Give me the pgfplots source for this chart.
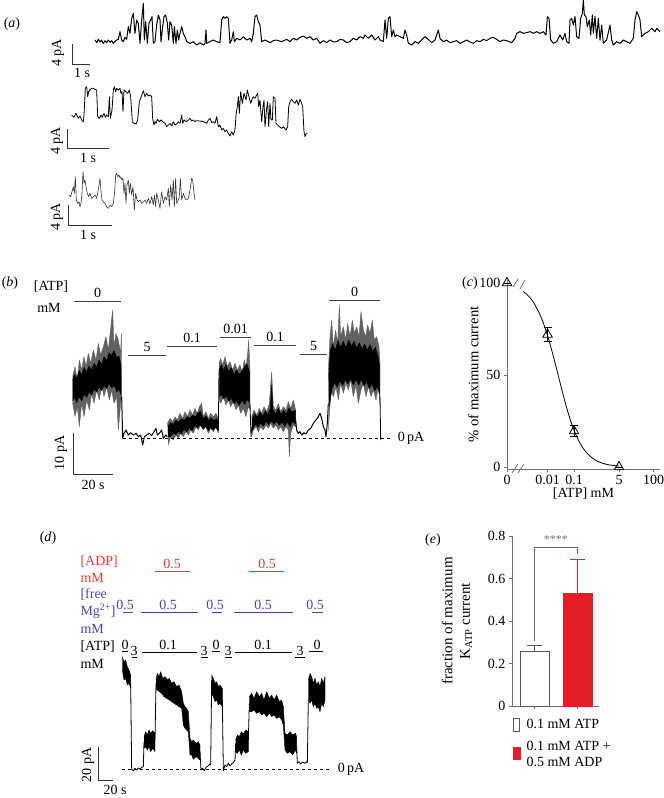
\documentclass[border=0pt]{standalone}
\usepackage{pgfplots}
\pgfplotsset{compat=1.18}
\usepackage{fontspec}
\setmainfont{Liberation Serif}
\definecolor{adpred}{HTML}{E4383D}
\definecolor{barred}{HTML}{E31E26}
\definecolor{mgblue}{HTML}{4646A0}
\definecolor{axgray}{HTML}{707070}
\pgfplotsset{
  px/.style={scale only axis, anchor=center, hide axis, clip=false, y dir=reverse},
  scalebar/.style={black!80, line width=0.9pt},
  solbar/.style={black!75, line width=0.9pt},
  trace/.style={black, line width=0.8pt, line join=round},
  band/.style={black, fill=black, line width=0.4pt, line join=round},
  fringe/.style={black!62, fill=black!62, line width=0.4pt, line join=round},
}
\begin{document}
\begin{tikzpicture}[font=\fontsize{14}{16.8}\selectfont]
\path[use as bounding box] (0,0) rectangle (664pt,-798pt);

% ---------- (a) trace 1
\begin{axis}[px, at={(377pt,-30pt)}, width=574pt, height=60pt,
  xmin=0, xmax=1722, ymin=0, ymax=180]
\addplot[trace, line width=1pt] coordinates {
(15,120)(20,128)(25,118)(30,126)(35,120)(40,130)(45,122)(50,128)(55,120)(60,127)(65,122)(70,130)(75,124)(80,120)(85,118)(90,95)(95,120)(100,125)(105,112)(110,118)(115,80)(120,100)(125,55)(130,40)(135,100)(140,60)(145,70)(150,130)(155,60)(160,10)(163,120)(167,65)(172,130)(177,70)(182,60)(186,50)(190,130)(195,125)(200,75)(205,45)(210,60)(213,125)(218,80)(222,50)(227,45)(232,70)(236,120)(240,65)(245,75)(250,130)(253,80)(258,130)(262,90)(266,120)(270,100)(275,80)(280,100)(285,110)(290,125)(300,130)(310,125)(320,135)(330,128)(340,135)(345,130)(348,90)(350,130)(360,125)(370,120)(380,125)(390,128)(395,60)(400,50)(405,55)(410,50)(415,55)(420,130)(425,120)(430,95)(433,125)(440,115)(450,120)(460,110)(470,120)(480,115)(485,125)(490,100)(495,50)(500,45)(505,65)(510,75)(515,125)(525,120)(540,128)(550,122)(560,120)(575,125)(590,118)(600,125)(610,115)(620,120)(630,112)(640,108)(650,115)(660,110)(670,120)(680,115)(690,130)(700,122)(710,128)(720,120)(730,126)(740,125)(750,118)(760,120)(770,128)(780,125)(790,115)(800,120)(810,110)(820,115)(825,105)(835,115)(845,105)(855,120)(865,110)
(870,120)(880,125)(885,60)(890,115)(895,55)(900,50)(905,110)(910,90)(915,110)(920,105)(930,110)(940,115)(945,90)(950,105)(955,130)(965,135)(975,125)(985,130)(995,120)(1005,110)(1015,118)(1025,128)(1035,120)(1045,90)(1050,115)(1060,125)(1070,120)(1080,128)(1090,125)(1100,122)(1110,130)(1120,125)(1130,120)(1140,126)(1150,130)(1160,122)(1170,125)(1180,118)(1190,122)(1200,115)(1210,112)(1220,118)(1230,125)(1240,120)(1250,122)(1265,128)(1275,115)(1280,100)(1290,95)(1300,100)(1310,98)(1320,95)(1330,100)(1340,95)(1350,100)(1360,95)(1368,105)(1372,50)(1377,55)(1382,120)(1390,130)(1400,125)(1410,105)(1418,120)(1425,100)(1430,125)(1437,130)(1440,60)(1445,55)(1450,75)(1455,50)(1460,110)(1467,115)(1472,55)(1477,40)(1480,0)(1483,45)(1488,50)(1492,80)(1498,60)(1502,105)(1507,45)(1510,100)(1515,50)(1520,115)(1525,55)(1530,120)(1535,75)(1540,130)(1550,120)(1560,75)(1565,120)(1570,135)(1580,125)(1590,130)(1600,120)(1610,125)(1620,130)(1630,115)(1635,60)(1640,35)(1645,45)(1650,60)(1655,110)(1665,100)(1675,95)(1685,85)(1695,95)(1700,85)(1710,95)};
\end{axis}

% ---------- (a) traces 2 and 3
\begin{axis}[px, at={(165pt,-160pt)}, width=330pt, height=200pt,
  xmin=0, xmax=990, ymin=0, ymax=600]
\addplot[trace] coordinates {
(215,165)(222,172)(228,160)(235,175)(240,168)(245,180)(250,185)(252,165)(256,85)(260,80)(263,110)(266,95)(270,90)(275,85)(280,85)(285,88)(290,90)(293,170)(298,175)(303,165)(307,172)(312,160)(316,172)(320,165)(325,170)(328,110)(331,175)(336,150)(340,90)(343,80)(347,95)(350,85)(355,90)(360,85)(363,100)(366,95)(369,155)(372,90)(378,95)(383,100)(388,90)(392,110)(397,185)(402,190)(408,192)(413,180)(418,125)(422,115)(427,100)(430,92)(435,110)(440,100)(445,108)(450,105)(455,110)(458,175)(462,195)(465,185)(468,190)(472,178)(478,185)(483,180)(488,185)(495,190)(500,200)(505,195)(510,190)(515,198)(520,185)(525,195)(530,192)(535,185)(540,190)(545,165)(548,190)(552,180)(558,185)(565,180)(570,175)(575,183)(580,180)(585,185)(590,182)(600,183)(610,185)(620,190)(625,180)(630,175)(635,188)(640,185)(645,190)(650,170)(655,200)(660,195)(665,210)(670,205)(675,215)(680,210)(685,220)(690,228)(695,215)(700,225)(705,210)(708,165)(712,140)(715,110)(718,160)(722,95)(727,130)(732,100)(738,120)(742,90)(747,110)(752,130)(755,120)(760,110)(765,115)(770,105)(773,100)(776,140)(780,120)(785,185)(788,150)(792,120)(795,200)(800,145)(803,125)(806,200)(810,130)(813,180)(817,180)(820,110)(825,115)(828,190)(833,195)(838,200)(845,205)(850,200)(858,210)(863,200)(866,140)(870,125)(875,118)(880,125)(885,130)(890,120)(895,135)(900,118)(905,130)(908,140)(912,215)(915,230)(918,222)(922,220)};
\addplot[trace, black!80, line width=0.6pt] coordinates {
(208,405)(212,410)(216,395)(220,380)(223,400)(226,350)(229,420)(233,430)(237,425)(240,440)(243,430)(246,400)(249,335)(252,370)(255,360)(258,380)(262,400)(266,410)(270,400)(275,415)(280,410)(285,405)(290,415)(293,400)(297,375)(300,355)(303,395)(306,420)(310,425)(315,430)(320,440)(325,445)(330,435)(335,440)(340,430)(344,395)(347,345)(350,340)(353,350)(357,345)(360,355)(363,350)(366,360)(369,355)(372,400)(375,370)(378,430)(381,375)(385,360)(388,400)(391,370)(395,405)(399,380)(403,450)(407,400)(411,420)(415,425)(420,420)(425,430)(430,425)(435,420)(440,430)(445,415)(450,432)(455,410)(460,435)(463,405)(467,440)(470,400)(475,420)(480,445)(485,395)(490,430)(495,410)(500,420)(505,385)(508,440)(512,375)(516,420)(520,360)(523,440)(527,355)(530,430)(535,420)(538,410)(541,355)(545,420)(550,400)(555,415)(560,420)(565,415)(570,390)(575,355)(578,360)(582,400)(585,420)};
\end{axis}

% ---------- (b) trace
\begin{axis}[px, at={(215pt,-370pt)}, width=430pt, height=200pt,
  xmin=0, xmax=1290, ymin=0, ymax=600]
% 0 ATP
\addplot[fringe] coordinates {
(218,320)(225,290)(232,330)(238,270)(245,300)(252,260)(258,290)(265,250)(272,280)(280,240)(288,270)(295,220)(302,255)(310,230)(318,200)(325,240)(332,175)(338,120)(342,230)(348,190)(355,210)(362,250)(364,190)(365,380)
(362,400)(355,480)(350,380)(342,400)(335,360)(328,390)(320,350)(312,380)(305,345)(298,390)(290,360)(282,400)(275,370)(268,420)(260,390)(252,440)(245,400)(238,470)(232,410)(225,440)(218,400)};
\addplot[band] coordinates {
(218,330)(224,312)(230,326)(237,302)(245,314)(252,292)(260,306)(267,288)(275,300)(282,280)(290,292)(297,270)(305,284)(312,260)(320,272)(327,248)(335,256)(342,242)(350,262)(357,258)(363,285)
(363,375)(357,358)(350,366)(343,346)(335,354)(327,340)(320,356)(312,346)(305,362)(297,350)(290,366)(282,358)(275,374)(267,366)(260,382)(252,372)(245,392)(237,380)(230,398)(224,382)(218,392)};
\addplot[trace, line width=1pt] coordinates {
(365,380)(368,505)(372,490)(378,480)(385,495)(392,488)(400,495)(408,490)(415,500)(422,495)(428,525)(433,500)(440,495)(448,490)(455,497)(462,485)(468,475)(472,495)(478,490)(485,480)(490,505)(497,495)(502,500)};
% 0.1
\addplot[fringe] coordinates {
(502,460)(510,445)(518,455)(525,440)(532,450)(540,430)(548,445)(555,425)(562,440)(570,420)(578,435)(585,415)(592,430)(598,410)(605,400)(610,440)(618,425)(625,445)(632,430)(640,440)(648,430)(655,445)
(655,490)(648,470)(640,485)(632,475)(625,490)(618,470)(610,480)(602,465)(595,480)(588,470)(580,490)(572,480)(565,495)(558,485)(550,500)(542,490)(535,505)(528,495)(520,510)(512,500)(505,525)};
\addplot[band] coordinates {
(504,468)(512,458)(520,463)(528,451)(536,456)(545,446)(553,451)(562,440)(570,444)(578,436)(586,441)(594,428)(602,424)(610,446)(618,438)(626,451)(634,444)(642,451)(650,446)(655,454)
(655,482)(647,472)(640,480)(632,472)(625,482)(617,469)(609,476)(600,464)(592,474)(584,466)(576,482)(568,474)(560,486)(552,478)(544,492)(536,484)(528,494)(520,489)(512,499)(504,500)};
\addplot[trace] coordinates {(655,480)(657,300)};
% 0.01
\addplot[fringe] coordinates {
(657,280)(662,265)(668,285)(675,260)(682,290)(690,275)(698,300)(705,280)(712,300)(720,285)(727,305)(733,270)(738,290)(743,250)(746,210)(750,300)
(750,420)(745,410)(738,440)(730,415)(722,430)(715,405)(708,420)(700,395)(692,410)(685,390)(678,405)(670,380)(663,400)(657,390)};
\addplot[band] coordinates {
(658,295)(664,285)(671,300)(678,283)(686,305)(694,293)(702,313)(710,300)(718,314)(726,303)(734,290)(741,282)(748,305)
(748,398)(741,388)(734,404)(726,390)(718,406)(710,393)(702,401)(694,385)(686,393)(678,377)(671,387)(664,373)(658,380)};
\addplot[trace] coordinates {(750,400)(753,500)(756,470)};
% 0.1
\addplot[fringe] coordinates {
(755,440)(762,420)(770,435)(778,415)(785,430)(792,410)(800,425)(808,400)(815,305)(820,410)(828,420)(835,400)(842,425)(850,410)(858,420)(865,395)(872,415)(880,390)(887,420)
(887,470)(880,465)(872,490)(868,560)(865,480)(858,470)(850,485)(842,470)(835,480)(828,465)(820,475)(812,460)(805,475)(798,465)(790,480)(782,470)(775,485)(768,470)(760,480)(755,500)};
\addplot[band] coordinates {
(756,447)(764,431)(772,442)(780,426)(788,438)(796,423)(804,434)(811,415)(815,345)(819,420)(827,430)(835,415)(843,434)(851,420)(859,432)(867,413)(875,426)(886,421)
(886,462)(878,454)(870,470)(862,456)(854,469)(846,456)(838,466)(830,454)(822,464)(814,452)(806,464)(798,454)(790,469)(782,459)(774,472)(766,462)(756,484)};
\addplot[trace, line width=1pt] coordinates {
(887,450)(890,480)(895,490)(900,485)(905,495)(912,488)(918,492)(925,480)(932,475)(940,460)(948,450)(955,440)(960,430)(965,445)(970,470)(975,480)(978,500)(982,460)(985,400)};
% 0 ATP
\addplot[fringe] coordinates {
(985,300)(990,200)(995,150)(1000,230)(1007,180)(1013,220)(1018,105)(1022,200)(1030,170)(1037,210)(1043,160)(1050,200)(1057,150)(1063,190)(1070,170)(1077,200)(1083,125)(1090,180)(1097,200)(1103,165)(1110,190)(1117,150)(1123,210)(1130,200)(1137,230)(1140,280)
(1140,400)(1135,350)(1128,390)(1120,360)(1113,380)(1105,350)(1098,380)(1090,340)(1083,360)(1075,400)(1068,345)(1060,380)(1052,330)(1045,360)(1038,340)(1030,370)(1022,340)(1015,390)(1008,350)(1000,380)(993,360)(985,480)};
\addplot[band] coordinates {
(986,320)(991,240)(998,222)(1006,240)(1014,212)(1022,232)(1030,214)(1038,234)(1046,210)(1054,228)(1062,214)(1070,234)(1078,218)(1086,238)(1094,222)(1102,240)(1110,224)(1118,244)(1126,232)(1134,258)(1139,290)
(1139,372)(1132,350)(1124,362)(1116,342)(1108,355)(1100,335)(1092,348)(1084,328)(1076,345)(1068,328)(1060,345)(1052,325)(1044,342)(1036,328)(1028,348)(1020,332)(1012,352)(1004,338)(996,355)(988,410)};
\addplot[trace] coordinates {(1140,380)(1142,510)};
\end{axis}

% ---------- (d) trace
\begin{axis}[px, at={(215pt,-680pt)}, width=430pt, height=240pt,
  xmin=0, xmax=1290, ymin=0, ymax=720]
\addplot[band] coordinates {(367,290)(372,305)(377,300)(382,320)(387,330)(392,345)(392,385)(387,370)(382,375)(377,355)(372,360)(367,330)};
\addplot[trace] coordinates {(392,370)(395,628)(400,632)(405,625)(410,630)(415,624)(420,628)(425,622)(430,620)(432,545)};
\addplot[band] coordinates {(432,530)(437,515)(442,525)(447,510)(452,520)(458,512)(465,520)(465,575)(458,565)(452,575)(447,560)(442,570)(437,560)(432,565)};
\addplot[trace] coordinates {(465,540)(468,370)};
\addplot[band] coordinates {
(468,360)(472,340)(477,350)(482,335)(488,355)(495,350)(502,360)(508,355)(515,370)(522,365)(530,380)(537,375)(545,395)(550,430)(555,440)(560,445)(565,455)(570,535)(575,545)(580,540)(588,550)(595,545)(600,555)
(600,600)(595,595)(588,590)(580,598)(575,585)(570,585)(565,515)(560,510)(555,505)(550,495)(545,445)(537,440)(530,435)(522,430)(515,425)(508,420)(500,415)(492,410)(485,400)(478,395)(472,390)(468,385)};
\addplot[trace] coordinates {(600,575)(603,630)(608,625)(613,632)(618,622)(624,618)(630,612)(632,615)(635,360)};
\addplot[band] coordinates {(635,345)(640,355)(645,370)(650,365)(655,380)(660,375)(667,385)(667,440)(660,430)(655,435)(650,420)(645,425)(640,410)(635,400)};
\addplot[trace] coordinates {(667,420)(670,632)(675,615)(680,620)(685,610)(690,618)(695,612)(700,608)(705,600)(707,550)};
\addplot[band] coordinates {(707,540)(712,525)(718,530)(724,515)(730,522)(737,510)(745,515)(745,575)(737,580)(730,570)(724,585)(718,570)(712,580)(707,575)};
\addplot[trace] coordinates {(745,540)(748,430)};
\addplot[band] coordinates {
(748,410)(755,400)(762,415)(770,395)(778,410)(785,400)(792,420)(800,395)(808,415)(815,405)(822,420)(830,405)(838,425)(845,420)(850,440)(855,520)(862,525)(870,515)(878,525)(886,520)(890,530)
(890,580)(886,570)(878,585)(870,575)(862,580)(855,570)(850,495)(845,480)(838,470)(830,475)(822,465)(815,470)(808,460)(800,470)(792,460)(785,465)(778,455)(770,460)(762,450)(755,455)(748,455)};
\addplot[trace] coordinates {(890,560)(892,610)(897,605)(902,612)(908,606)(914,610)(920,605)(922,608)(925,420)};
\addplot[band] coordinates {(925,360)(930,340)(935,350)(940,370)(945,355)(950,375)(955,365)(960,380)(965,355)(970,370)(975,350)(975,420)(970,440)(965,430)(960,455)(955,440)(950,445)(945,430)(940,440)(935,420)(930,430)(925,415)};
\end{axis}

% ---------- (c) dose response
\begin{axis}[at={(583.5pt,-374.5pt)}, anchor=center, scale only axis,
  width=153pt, height=189pt, clip=false,
  xmode=log, xmin=2.95e-4, xmax=176, ymin=-1.1, ymax=101.6,
  axis lines=left, axis line style={-, axgray, line width=0.8pt},
  xtick={2.95e-4,0.01,0.1,5,100}, xticklabels={0,0.01,0.1,5,100},
  ytick={0,50,100}, xminorticks=false,
  tick align=outside, major tick length=3pt, tick style={axgray, line width=0.8pt},
  tick label style={font=\fontsize{14}{16.8}\selectfont},
  /pgf/number format/assume math mode=true,
  xlabel={[ATP] mM}, xlabel style={yshift=4pt},
  ylabel={\% of maximum current},
  ylabel style={yshift=-6pt, font=\fontsize{14.6}{17}\selectfont}]
\addplot[black, line width=0.8pt, smooth] coordinates {
(0.0012,95.4)(0.002,92.6)(0.003,89.3)(0.005,83.3)(0.007,78.1)(0.01,71.4)(0.015,62.5)(0.02,55.6)(0.03,45.5)(0.04,38.5)(0.05,33.3)(0.07,26.3)(0.1,20)(0.15,14.3)(0.2,11.1)(0.3,7.7)(0.5,4.8)(0.7,3.4)(1,2.4)(2,1.2)(5,0.5)};
\addplot[black, only marks, mark=triangle, mark size=5.5pt, mark options={fill=white, line width=0.8pt},
  error bars/.cd, y dir=both, y explicit, error bar style={line width=0.8pt},
  error mark options={rotate=90, mark size=4pt, line width=0.8pt}]
  coordinates {(2.95e-4,100) +- (0,0) (0.01,72) +- (0,4) (0.1,19.5) +- (0,3) (5,0) +- (0,0)};
\end{axis}

% ---------- (e) bars
\begin{axis}[at={(555.5pt,-621pt)}, anchor=center, scale only axis,
  width=87pt, height=170pt, clip=false,
  xmin=0.477, xmax=2.5, ymin=0, ymax=0.8,
  axis lines=left, axis line style={-, axgray, line width=0.8pt},
  xtick={1,2}, xticklabels={}, ytick={0,0.2,0.4,0.6,0.8},
  yticklabels={0,0.2,0.4,0.6,0.8},
  tick align=outside, major tick length=3pt, tick style={axgray, line width=0.8pt},
  tick label style={font=\fontsize{14}{16.8}\selectfont},
  /pgf/number format/assume math mode=true,
  ylabel={\begin{tabular}{@{}c@{}}fraction of maximum\\K\textsubscript{ATP} current\end{tabular}},
  ylabel style={yshift=6pt, font=\fontsize{15}{17.5}\selectfont}]
\addplot[ybar, bar width=29pt, bar shift=0pt, draw=black!65, fill=white, line width=0.9pt] coordinates {(1,0.256)};
\addplot[ybar, bar width=29pt, bar shift=0pt, draw=barred, fill=barred, line width=0.9pt] coordinates {(2,0.53)};
\addplot[black!65, line width=0.9pt] coordinates {(1,0.256)(1,0.284)};
\addplot[black!65, line width=0.9pt] coordinates {(0.826,0.284)(1.174,0.284)};
\addplot[barred, line width=0.9pt] coordinates {(2,0.53)(2,0.69)};
\addplot[barred, line width=0.9pt] coordinates {(1.826,0.69)(2.174,0.69)};
\addplot[black!60, line width=0.9pt] coordinates {(1.01,0.307)(1.01,0.744)(1.99,0.744)(1.99,0.716)};
\node[black!55, font=\fontsize{12}{14}\selectfont] at (axis cs:1.5,0.785) {****};
\end{axis}

% ---------- annotations (pixel grid)
\begin{axis}[px, at={(332pt,-399pt)}, width=664pt, height=798pt,
  xmin=0, xmax=664, ymin=0, ymax=798]
% (a)
\node at (12,24) {(\textit{a})};
\addplot[scalebar] coordinates {(72,44)(72,64)(90,64)};
\node[rotate=90] at (58,53) {4 pA};
\node at (82,73) {1 s};
\addplot[scalebar] coordinates {(67,129)(67,148)(109,148)};
\node[rotate=90] at (57,141) {4 pA};
\node at (88,158) {1 s};
\addplot[scalebar] coordinates {(68,205)(68,225)(112,225)};
\node[rotate=90] at (57,217) {4 pA};
\node at (88,235) {1 s};
% (b)
\node at (10,283) {(\textit{b})};
\node at (51,287) {[ATP]};
\node at (49,308) {mM};
\addplot[solbar] coordinates {(74,301)(121,301)};   \node[anchor=south, inner sep=0pt] at (97.5,298) {0};
\addplot[solbar] coordinates {(128,355)(166,355)};  \node[anchor=south, inner sep=0pt] at (147,352) {5};
\addplot[solbar] coordinates {(167,346)(217,346)};  \node[anchor=south, inner sep=0pt] at (192,343) {0.1};
\addplot[solbar] coordinates {(220,337)(251,337)};  \node[anchor=south, inner sep=0pt] at (235.5,334) {0.01};
\addplot[solbar] coordinates {(254,345)(296,345)};  \node[anchor=south, inner sep=0pt] at (275,342) {0.1};
\addplot[solbar] coordinates {(300,354)(327,354)};  \node[anchor=south, inner sep=0pt] at (313.5,351) {5};
\addplot[solbar] coordinates {(329,300)(380,300)};  \node[anchor=south, inner sep=0pt] at (354.5,297) {0};
\addplot[black, dashed, line width=0.7pt] coordinates {(123,438)(390,438)};
\node at (411,438) {0\,pA};
\addplot[scalebar] coordinates {(73,433)(73,474)(113,474)};
\node[rotate=90] at (61,453) {10 pA};
\node at (93,485) {20 s};
% (c)
\node at (470,283) {(\textit{c})};
\addplot[axgray, line width=0.8pt] coordinates {(512,473)(518,464)};
\addplot[axgray, line width=0.8pt] coordinates {(518,473)(524,464)};
\addplot[axgray, line width=0.8pt] coordinates {(513,287)(518,279)};
\addplot[axgray, line width=0.8pt] coordinates {(520,289)(525,280)};
% (d)
\node at (48,538) {(\textit{d})};
\node[anchor=west, adpred] at (77,562) {[ADP]};
\node[anchor=west, adpred] at (77,578) {mM};
\addplot[adpred, line width=0.9pt] coordinates {(155,571)(190,571)};
\addplot[adpred, line width=0.9pt] coordinates {(249,571)(284,571)};
\node[anchor=south, inner sep=0pt, adpred] at (172,569) {0.5};
\node[anchor=south, inner sep=0pt, adpred] at (267,569) {0.5};
\node[anchor=west, mgblue] at (77,594) {[free};
\node[anchor=west, mgblue] at (77,611) {Mg\textsuperscript{2+}]};
\node[anchor=west, mgblue] at (77,629) {mM};
\addplot[mgblue, line width=0.9pt] coordinates {(123,612)(133,612)};
\addplot[mgblue, line width=0.9pt] coordinates {(141,612)(198,612)};
\addplot[mgblue, line width=0.9pt] coordinates {(212,612)(222,612)};
\addplot[mgblue, line width=0.9pt] coordinates {(234,612)(293,612)};
\addplot[mgblue, line width=0.9pt] coordinates {(312,612)(323,612)};
\node[anchor=south, inner sep=0pt, mgblue] at (125,610) {0.5};
\node[anchor=south, inner sep=0pt, mgblue] at (168,610) {0.5};
\node[anchor=south, inner sep=0pt, mgblue] at (215,610) {0.5};
\node[anchor=south, inner sep=0pt, mgblue] at (263,610) {0.5};
\node[anchor=south, inner sep=0pt, mgblue] at (315,610) {0.5};
\node[anchor=west] at (77,647) {[ATP]};
\node[anchor=west] at (77,664) {mM};
\addplot[solbar, black] coordinates {(122,651)(128,651)};
\addplot[solbar, black] coordinates {(132,657)(137,657)};
\addplot[solbar, black] coordinates {(142,652)(197,652)};
\addplot[solbar, black] coordinates {(201,657)(208,657)};
\addplot[solbar, black] coordinates {(212,651)(220,651)};
\addplot[solbar, black] coordinates {(225,657)(232,657)};
\addplot[solbar, black] coordinates {(235,652)(292,652)};
\addplot[solbar, black] coordinates {(295,657)(305,657)};
\addplot[solbar, black] coordinates {(309,651)(323,651)};
\node[anchor=south, inner sep=0pt] at (125,650) {0};
\node[anchor=south, inner sep=0pt] at (134,656) {3};
\node[anchor=south, inner sep=0pt] at (168,650) {0.1};
\node[anchor=south, inner sep=0pt] at (204,656) {3};
\node[anchor=south, inner sep=0pt] at (216,650) {0};
\node[anchor=south, inner sep=0pt] at (228,656) {3};
\node[anchor=south, inner sep=0pt] at (263,650) {0.1};
\node[anchor=south, inner sep=0pt] at (300,656) {3};
\node[anchor=south, inner sep=0pt] at (317,650) {0};
\addplot[black, dashed, line width=0.7pt] coordinates {(122,769)(330,769)};
\node at (351,769) {0\,pA};
\addplot[scalebar] coordinates {(98,747)(98,780)(113,780)};
\node[rotate=90] at (88,765) {20 pA};
\node at (115,790) {20 s};
% (e)
\node at (433,540) {(\textit{e})};
\draw[black!65, line width=0.8pt, fill=white] (axis cs:513,718) rectangle (axis cs:519,731);
\node[anchor=west] at (523,724) {0.1 mM ATP};
\fill[barred] (axis cs:512.5,747) rectangle (axis cs:521,760);
\node[anchor=west] at (523,746) {0.1 mM ATP +};
\node[anchor=west] at (523,762) {0.5 mM ADP};
\end{axis}
\end{tikzpicture}
\end{document}
